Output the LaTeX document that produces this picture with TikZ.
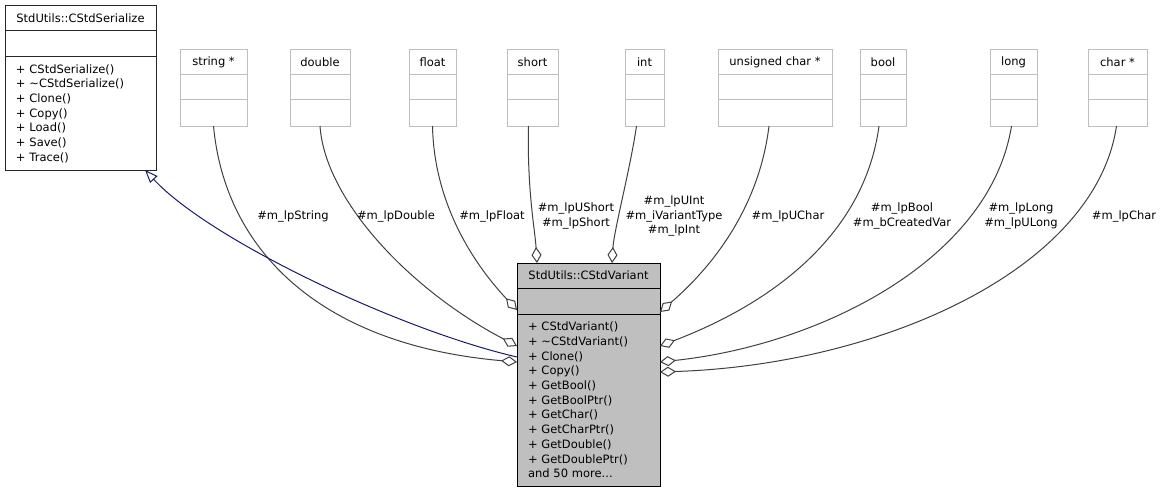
\documentclass[tikz,border=0pt]{standalone}
\usepackage{fontspec}
\setmainfont{DejaVu Sans}
\usetikzlibrary{positioning,arrows.meta}
\definecolor{boxgray}{HTML}{BFBFBF}
\definecolor{edgegray}{HTML}{404040}
\definecolor{inhblue}{HTML}{191970}

\begin{document}
\begin{tikzpicture}[x=1pt,y=-1pt,font=\fontsize{11.5}{14.7}\selectfont,inner sep=0pt,outer sep=0pt]
\tikzstyle{typebox}=[draw=boxgray,line width=1pt]
\tikzstyle{classbox}=[draw=black!85,line width=1pt]
\tikzstyle{curbox}=[draw=black,fill=boxgray,line width=1pt]
\tikzstyle{aggr}=[draw=edgegray,line width=1pt,-{Diamond[open,length=16pt,width=10pt]}]
\tikzstyle{inherit}=[draw=inhblue,line width=1pt,-{Triangle[open,length=13pt,width=10pt]}]
\tikzstyle{elabel}=[align=center]
\useasboundingbox (0,0) rectangle (1174,492);

% base class
\node[classbox,minimum width=151pt,minimum height=25pt] (ser) at (80.5,18.5) {StdUtils::CStdSerialize};
\node[classbox,minimum width=151pt,minimum height=26pt,below=0pt of ser] (ser-attr) {};
\node[classbox,minimum width=151pt,minimum height=113pt,text width=129pt,inner xsep=11pt,align=left,below=0pt of ser-attr] (ser-ops)
  {+ CStdSerialize()\\+ \textasciitilde CStdSerialize()\\+ Clone()\\+ Copy()\\+ Load()\\+ Save()\\+ Trace()};

% member types
\node[typebox,minimum width=67pt,minimum height=25pt] (tstring) at (213.5,62.5) {string *};
\node[typebox,minimum width=67pt,minimum height=25pt,below=0pt of tstring] (tstring-a) {};
\node[typebox,minimum width=67pt,minimum height=26pt,below=0pt of tstring-a] (tstring-m) {};
\node[typebox,minimum width=60pt,minimum height=25pt] (tdouble) at (320,62.5) {double};
\node[typebox,minimum width=60pt,minimum height=25pt,below=0pt of tdouble] (tdouble-a) {};
\node[typebox,minimum width=60pt,minimum height=26pt,below=0pt of tdouble-a] (tdouble-m) {};
\node[typebox,minimum width=47pt,minimum height=25pt] (tfloat) at (432.5,62.5) {float};
\node[typebox,minimum width=47pt,minimum height=25pt,below=0pt of tfloat] (tfloat-a) {};
\node[typebox,minimum width=47pt,minimum height=26pt,below=0pt of tfloat-a] (tfloat-m) {};
\node[typebox,minimum width=51pt,minimum height=25pt] (tshort) at (532.5,62.5) {short};
\node[typebox,minimum width=51pt,minimum height=25pt,below=0pt of tshort] (tshort-a) {};
\node[typebox,minimum width=51pt,minimum height=26pt,below=0pt of tshort-a] (tshort-m) {};
\node[typebox,minimum width=39pt,minimum height=25pt] (tint) at (644.5,62.5) {int};
\node[typebox,minimum width=39pt,minimum height=25pt,below=0pt of tint] (tint-a) {};
\node[typebox,minimum width=39pt,minimum height=26pt,below=0pt of tint-a] (tint-m) {};
\node[typebox,minimum width=114pt,minimum height=25pt] (tuchar) at (775,62.5) {unsigned char *};
\node[typebox,minimum width=114pt,minimum height=25pt,below=0pt of tuchar] (tuchar-a) {};
\node[typebox,minimum width=114pt,minimum height=26pt,below=0pt of tuchar-a] (tuchar-m) {};
\node[typebox,minimum width=46pt,minimum height=25pt] (tbool) at (883,62.5) {bool};
\node[typebox,minimum width=46pt,minimum height=25pt,below=0pt of tbool] (tbool-a) {};
\node[typebox,minimum width=46pt,minimum height=26pt,below=0pt of tbool-a] (tbool-m) {};
\node[typebox,minimum width=47pt,minimum height=25pt] (tlong) at (1013.5,62.5) {long};
\node[typebox,minimum width=47pt,minimum height=25pt,below=0pt of tlong] (tlong-a) {};
\node[typebox,minimum width=47pt,minimum height=26pt,below=0pt of tlong-a] (tlong-m) {};
\node[typebox,minimum width=59pt,minimum height=25pt] (tchar) at (1117.5,62.5) {char *};
\node[typebox,minimum width=59pt,minimum height=25pt,below=0pt of tchar] (tchar-a) {};
\node[typebox,minimum width=59pt,minimum height=26pt,below=0pt of tchar-a] (tchar-m) {};

% the class itself
\node[curbox,minimum width=143pt,minimum height=25pt] (var) at (588.5,275.5) {StdUtils::CStdVariant};
\node[curbox,minimum width=143pt,minimum height=26pt,below=0pt of var] (var-attr) {};
\node[curbox,minimum width=143pt,minimum height=172pt,text width=121pt,inner xsep=11pt,align=left,below=0pt of var-attr] (var-ops)
  {+ CStdVariant()\\+ \textasciitilde CStdVariant()\\+ Clone()\\+ Copy()\\+ GetBool()\\+ GetBoolPtr()\\+ GetChar()\\+ GetCharPtr()\\+ GetDouble()\\+ GetDoublePtr()\\and 50 more...};

% edges
\draw[aggr] (tstring-m.south) .. controls (225,250) and (320,345) .. ([yshift=-99pt]var.north west);
\draw[aggr] (tdouble-m.south) .. controls (325,200) and (410,290) .. ([yshift=-83pt]var.north west);
\draw[aggr] (tfloat-m.south) .. controls (434,200) and (470,260) .. ([yshift=-47pt]var.north west);
\draw[aggr] ([xshift=-4pt]tshort-m.south) .. controls (527,190) and (535,230) .. ([xshift=20pt]var.north west);
\draw[aggr] ([xshift=-8pt]tint-m.south) .. controls (630,170) and (614,230) .. ([xshift=95pt]var.north west);
\draw[aggr] ([xshift=-6pt]tuchar-m.south) .. controls (760,200) and (720,260) .. ([yshift=-49pt]var.north east);
\draw[aggr] ([xshift=-4pt]tbool-m.south) .. controls (865,230) and (780,300) .. ([yshift=-83pt]var.north east);
\draw[aggr] ([xshift=-2pt]tlong-m.south) .. controls (990,260) and (820,345) .. ([yshift=-99pt]var.north east);
\draw[aggr] ([xshift=-1pt]tchar-m.south) .. controls (1095,270) and (880,365) .. ([yshift=-109pt]var.north east);
\draw[inherit] ([yshift=-94pt]var.north west) .. controls (400,330) and (210,240) .. ([xshift=-11pt]ser-ops.south east);

% edge labels
\node[elabel] (lstring) at (293,216) {\#m\_lpString};
\node[elabel] (ldouble) at (396,216) {\#m\_lpDouble};
\node[elabel] (lfloat) at (492,216) {\#m\_lpFloat};
\node[elabel] (lshort) at (576,216) {\#m\_lpUShort\\\#m\_lpShort};
\node[elabel] (lint) at (674,216) {\#m\_lpUInt\\\#m\_iVariantType\\\#m\_lpInt};
\node[elabel] (luchar) at (788,216) {\#m\_lpUChar};
\node[elabel] (lbool) at (902,216) {\#m\_lpBool\\\#m\_bCreatedVar};
\node[elabel] (llong) at (1021,216) {\#m\_lpLong\\\#m\_lpULong};
\node[elabel] (lchar) at (1124,216) {\#m\_lpChar};
\end{tikzpicture}
\end{document}
